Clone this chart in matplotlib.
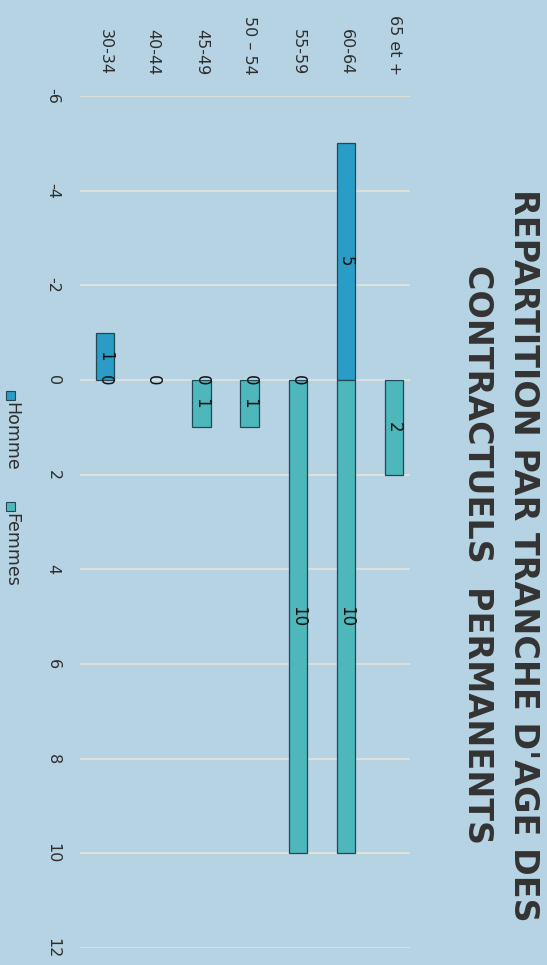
import matplotlib.pyplot as plt
import numpy as np
from matplotlib.patches import Rectangle

# data (original chart is a sideways horizontal bar chart)
categories = ['30-34', '40-44', '45-49', '50 – 54', '55-59', '60-64', '65 et +']
homme = [-1, 0, 0, 0, 0, -5, np.nan]
femmes = [0, np.nan, 1, 1, 10, 10, 2]
homme_labels = ['1', '0', '0', '0', '0', '5', '']
femmes_labels = ['0', '', '1', '1', '10', '10', '2']
value_ticks = [-6, -4, -2, 0, 2, 4, 6, 8, 10, 12]

title = "REPARTITION PAR TRANCHE D'AGE DES\nCONTRACTUELS  PERMANENTS"

bg = '#b6d3e3'
c_homme = '#2a9cc6'
c_femmes = '#4db7bb'
edge = '#1f4a55'
txt = '#2e2e2e'

W, H = 547, 965
fig = plt.figure(figsize=(W / 100, H / 100), dpi=100)
fig.patch.set_facecolor(bg)
ax = fig.add_axes([80 / W, 1 - 948 / H, 330 / W, (948 - 96) / H])
ax.set_facecolor(bg)

x = np.arange(len(categories))
# no outline on empty (zero) bars
e1 = [edge if v else 'none' for v in homme]
e2 = [edge if v else 'none' for v in femmes]
b1 = ax.bar(x, homme, width=0.38, color=c_homme, edgecolor=e1, linewidth=0.9, zorder=3)
b2 = ax.bar(x, femmes, width=0.38, color=c_femmes, edgecolor=e2, linewidth=0.9, zorder=3)

ax.bar_label(b1, labels=homme_labels, label_type='center', rotation=-90,
             fontsize=12, color='#111111', zorder=4)
ax.bar_label(b2, labels=femmes_labels, label_type='center', rotation=-90,
             fontsize=12, color='#111111', zorder=4)

ax.set_ylim(12, -6)
ax.set_yticks(value_ticks)
ax.set_yticklabels([str(v) for v in value_ticks], rotation=-90, va='center',
                   fontsize=11.5, color=txt)
ax.yaxis.grid(True, color='#e2e2d8', linewidth=1.3, zorder=0)
ax.set_axisbelow(True)

ax.set_xlim(-0.52, 6.33)
ax.xaxis.tick_top()
ax.set_xticks(x)
ax.set_xticklabels(categories, rotation=-90, fontsize=11.5, color=txt)
ax.tick_params(axis='x', length=0, pad=15)
ax.tick_params(axis='y', length=0, pad=14)
for s in ax.spines.values():
    s.set_visible(False)

fig.text(0.915, 0.425, title, rotation=-90, ha='center', va='center',
         multialignment='center', fontsize=24, fontweight='bold',
         color='#333333', linespacing=1.5)

# legend drawn by hand, rotated like the rest
fig.patches.append(Rectangle((6 / W, 1 - 400 / H), 9 / W, 9 / H, transform=fig.transFigure,
                             facecolor=c_homme, edgecolor=edge, linewidth=0.8))
fig.text(11 / W, 1 - 402 / H, 'Homme', rotation=-90, ha='center', va='top',
         fontsize=12.5, color=txt)
fig.patches.append(Rectangle((6 / W, 1 - 511 / H), 9 / W, 9 / H, transform=fig.transFigure,
                             facecolor=c_femmes, edgecolor=edge, linewidth=0.8))
fig.text(11 / W, 1 - 513 / H, 'Femmes', rotation=-90, ha='center', va='top',
         fontsize=12.5, color=txt)

fig.savefig('out.png', dpi=100, facecolor=bg)
